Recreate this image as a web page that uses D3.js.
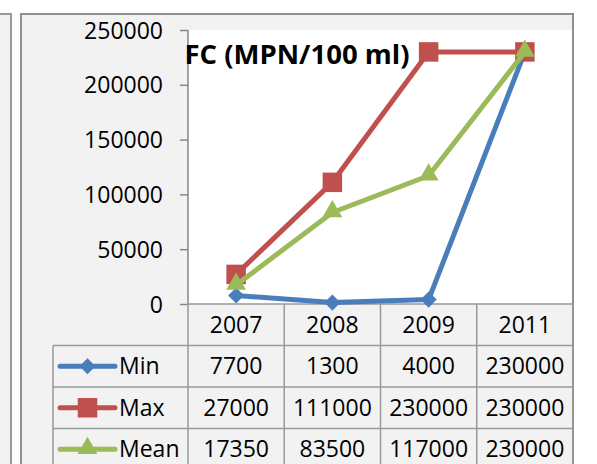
<!DOCTYPE html>
<meta charset="utf-8">
<title>FC (MPN/100 ml)</title>
<style>
  html, body { margin: 0; padding: 0; background: #fff; }
  svg { display: block; font-family: 'Open Sans', sans-serif; }
  .axis path, .axis line { stroke: #878787; stroke-width: 1.5px; }
  .axis text { font-size: 23px; fill: #000; font-family: 'Open Sans', sans-serif; }
  .cell { font-size: 23px; fill: #000; }
  .grid { stroke: #999; stroke-width: 1.5px; }
</style>
<body>
<script src="https://d3js.org/d3.v7.min.js"></script>
<script>

// the data
var years = ["2007", "2008", "2009", "2011"];
var minVals  = [7700, 1300, 4000, 230000];
var maxVals  = [27000, 111000, 230000, 230000];
var meanVals = [17350, 83500, 117000, 230000];
var seriesNames = ["Min", "Max", "Mean"];
var yTicks = [0, 50000, 100000, 150000, 200000, 250000];

var series = [
  { name: seriesNames[0], values: minVals,  color: "#4a7ebb", shape: "diamond" },
  { name: seriesNames[1], values: maxVals,  color: "#c0504d", shape: "square" },
  { name: seriesNames[2], values: meanVals, color: "#9bbb59", shape: "triangle" }
];

var W = 597, H = 464;
var plot = { left: 188, right: 572, top: 30, bottom: 304 };
var rowH = 41.5, legendLeft = 53;

var svg = d3.select("body").append("svg")
    .attr("width", W)
    .attr("height", H);

// side strip on the left and the chart frame
svg.append("rect").attr("x", -2).attr("y", 14).attr("width", 13).attr("height", H)
    .attr("fill", "#f2f2f2").attr("stroke", "#999").attr("stroke-width", 2);
svg.append("rect").attr("x", 21).attr("y", 14).attr("width", 552).attr("height", H)
    .attr("fill", "#f2f2f2").attr("stroke", "#8f8f8f").attr("stroke-width", 2);

// plot area
svg.append("rect")
    .attr("x", plot.left).attr("y", plot.top)
    .attr("width", plot.right - plot.left).attr("height", plot.bottom - plot.top)
    .attr("fill", "#fff");

// scales
var x = d3.scaleBand().domain(years).range([plot.left, 573]);
var y = d3.scaleLinear().domain([0, 250000]).range([plot.bottom, plot.top]);

// y axis
svg.append("g")
    .attr("class", "axis")
    .attr("transform", "translate(" + plot.left + ",0)")
    .call(d3.axisLeft(y).tickValues(yTicks).tickSize(8).tickPadding(17).tickFormat(d3.format("d")))
    .call(function(g) { g.select(".domain").attr("d", "M0," + plot.top + "V" + plot.bottom); })
    .selectAll("text").attr("dy", "0.35em");

// data table: grid lines
var nRows = 3;
var tableBottom = plot.bottom + rowH * (nRows + 1);
svg.append("line").attr("class", "grid")
    .attr("x1", plot.left).attr("x2", x.range()[1])
    .attr("y1", plot.bottom).attr("y2", plot.bottom);
d3.range(1, nRows + 2).forEach(function(i) {
  svg.append("line").attr("class", "grid")
      .attr("x1", legendLeft).attr("x2", x.range()[1])
      .attr("y1", plot.bottom + rowH * i).attr("y2", plot.bottom + rowH * i);
});
years.concat(["end"]).forEach(function(yr, i) {
  var xx = i < years.length ? x(yr) : x.range()[1];
  svg.append("line").attr("class", "grid")
      .attr("x1", xx).attr("x2", xx)
      .attr("y1", plot.bottom).attr("y2", tableBottom);
});
svg.append("line").attr("class", "grid")
    .attr("x1", legendLeft).attr("x2", legendLeft)
    .attr("y1", plot.bottom + rowH).attr("y2", tableBottom);

// header years
svg.selectAll(".yr").data(years).enter().append("text")
    .attr("class", "cell")
    .attr("x", function(d) { return x(d) + x.bandwidth() / 2; })
    .attr("y", plot.bottom + rowH / 2)
    .attr("dy", "0.35em")
    .attr("text-anchor", "middle")
    .text(function(d) { return d; });

function marker(shape) {
  if (shape === "square") return d3.symbol(d3.symbolSquare, 380)();
  if (shape === "diamond") return d3.symbol(d3.symbolSquare, 130)();
  return d3.symbol(d3.symbolTriangle, 170)();
}
function markerTransform(shape, cx, cy) {
  var t = "translate(" + cx + "," + cy + ")";
  if (shape === "diamond") t += " rotate(45)";
  if (shape === "triangle") t = "translate(" + cx + "," + (cy - 1) + ")";
  return t;
}

// rows of the table with legend keys
series.forEach(function(s, i) {
  var cy = plot.bottom + rowH * (i + 1) + rowH / 2;
  svg.append("line")
      .attr("x1", 60).attr("x2", 115).attr("y1", cy).attr("y2", cy)
      .attr("stroke", s.color).attr("stroke-width", 5).attr("stroke-linecap", "round");
  svg.append("path")
      .attr("d", marker(s.shape))
      .attr("transform", markerTransform(s.shape, 87.5, cy))
      .attr("fill", s.color);
  svg.append("text").attr("class", "cell")
      .attr("x", 119).attr("y", cy).attr("dy", "0.35em")
      .text(s.name);
  svg.selectAll(null).data(s.values).enter().append("text")
      .attr("class", "cell")
      .attr("x", function(d, j) { return x(years[j]) + x.bandwidth() / 2; })
      .attr("y", cy).attr("dy", "0.35em")
      .attr("text-anchor", "middle")
      .text(function(d) { return d; });
});

// lines and markers
var line = d3.line()
    .x(function(d, j) { return x(years[j]) + x.bandwidth() / 2; })
    .y(function(d) { return y(d); });

series.forEach(function(s) {
  svg.append("path")
      .datum(s.values)
      .attr("d", line)
      .attr("fill", "none")
      .attr("stroke", s.color)
      .attr("stroke-width", 5)
      .attr("stroke-linejoin", "round");
  svg.selectAll(null).data(s.values).enter().append("path")
      .attr("d", marker(s.shape))
      .attr("transform", function(d, j) {
        return markerTransform(s.shape, x(years[j]) + x.bandwidth() / 2, y(d));
      })
      .attr("fill", s.color);
});

// title
svg.append("text")
    .attr("x", 297).attr("y", 64)
    .attr("text-anchor", "middle")
    .attr("font-weight", "bold")
    .attr("font-size", 27.5)
    .text("FC (MPN/100 ml)");

</script>
</body>
